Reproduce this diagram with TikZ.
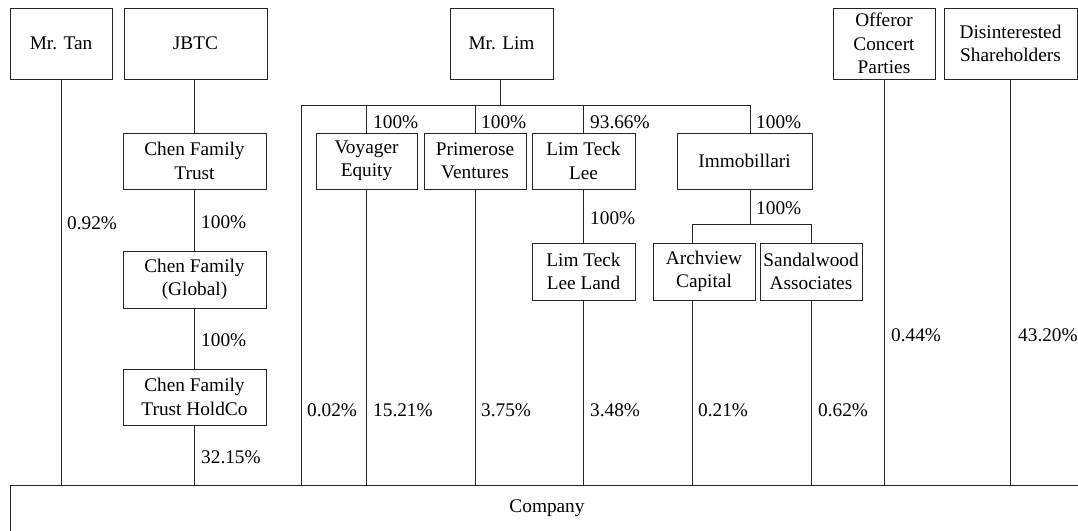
\documentclass[tikz,border=0pt]{standalone}
\usepackage{fontspec}
\setmainfont{Liberation Serif}
\begin{document}
\begin{tikzpicture}[x=1pt,y=-1pt,
  box/.style={draw=black!85, line width=0.9pt, align=center, inner sep=0pt, font=\fontsize{19.3}{23.3}\selectfont},
  lbl/.style={anchor=west, inner sep=0pt, font=\fontsize{19.3}{23}\selectfont},
  conn/.style={draw=black!85, line width=0.9pt}]
\useasboundingbox (0,0) rectangle (1078,530);
\clip (0,0) rectangle (1078,530);
\newcommand\bx[6]{\node[box, minimum width={(#4-#2)*1pt}, minimum height={(#5-#3)*1pt}] (#1) at ({(#2+#4)/2},{(#3+#5)/2}) {#6};}
% top row
\bx{tan}{10}{8}{112}{79}{Mr. Tan}
\bx{jbtc}{124}{8}{267}{79}{JBTC}
\bx{lim}{450}{8}{553}{79}{Mr. Lim}
\bx{offeror}{833}{8}{935}{79}{Offeror\\Concert\\Parties}
\bx{disint}{944}{8}{1077}{79}{Disinterested\\Shareholders}
% Chen chain
\bx{trust}{123}{133}{266}{189}{Chen Family\\Trust}
\bx{global}{123}{251}{266}{308}{Chen Family\\(Global)}
\bx{holdco}{123}{369}{266}{425}{Chen Family\\Trust HoldCo}
% Lim group
\bx{voyager}{316}{133}{417}{189}{Voyager\\Equity}
\bx{primerose}{424}{133}{526}{189}{Primerose\\Ventures}
\bx{ltl}{532}{133}{635}{189}{Lim Teck\\Lee}
\bx{immob}{677}{133}{812}{189}{Immobillari}
\bx{ltll}{532}{243}{635}{300}{Lim Teck\\Lee Land}
\bx{archview}{653}{243}{755}{300}{Archview\\Capital}
\bx{sandal}{760}{243}{862}{300}{Sandalwood\\Associates}
% company
\bx{company}{10}{485}{1084}{531}{Company}

% coordinates
\coordinate (limbar) at (500,105);
\coordinate (barL) at (301,105);
\coordinate (barR) at (750,105);
\coordinate (immbar) at (750,224);
\coordinate (arcTop) at (692,243);
\coordinate (arcBot) at (692,300);

% connectors
\draw[conn] (tan.south) -- (tan.south |- company.north);
\draw[conn] (jbtc.south -| trust.north) -- (trust.north);
\draw[conn] (trust.south) -- (global.north);
\draw[conn] (global.south) -- (holdco.north);
\draw[conn] (holdco.south) -- (holdco.south |- company.north);
\draw[conn] (limbar |- lim.south) -- (limbar);
\draw[conn] (barL |- company.north) -- (barL) -- (barR) -- (barR |- immob.north);
\draw[conn] (voyager.north |- barL) -- (voyager.north);
\draw[conn] (primerose.north |- barL) -- (primerose.north);
\draw[conn] (ltl.north |- barL) -- (ltl.north);
\draw[conn] (voyager.south) -- (voyager.south |- company.north);
\draw[conn] (primerose.south) -- (primerose.south |- company.north);
\draw[conn] (ltl.south) -- (ltll.north);
\draw[conn] (ltll.south) -- (ltll.south |- company.north);
\draw[conn] (immbar |- immob.south) -- (immbar);
\draw[conn] (arcTop) -- (arcTop |- immbar) -- (immbar -| sandal.north) -- (sandal.north);
\draw[conn] (arcBot) -- (arcBot |- company.north);
\draw[conn] (sandal.south) -- (sandal.south |- company.north);
\draw[conn] (offeror.south) -- (offeror.south |- company.north);
\draw[conn] (disint.south) -- (disint.south |- company.north);

% labels
\node[lbl] (l1) at (67,223) {0.92\%};
\node[lbl] (l2) at (201,222) {100\%};
\node[lbl] (l3) at (201,340) {100\%};
\node[lbl] (l4) at (201,457) {32.15\%};
\node[lbl] (l5) at (373,122) {100\%};
\node[lbl] (l6) at (481,122) {100\%};
\node[lbl] (l7) at (590,122) {93.66\%};
\node[lbl] (l8) at (756,122) {100\%};
\node[lbl] (l9) at (590,218) {100\%};
\node[lbl] (l10) at (756,208) {100\%};
\node[lbl] (l11) at (307,410) {0.02\%};
\node[lbl] (l12) at (373,410) {15.21\%};
\node[lbl] (l13) at (481,410) {3.75\%};
\node[lbl] (l14) at (590,410) {3.48\%};
\node[lbl] (l15) at (698,410) {0.21\%};
\node[lbl] (l16) at (818,410) {0.62\%};
\node[lbl] (l17) at (891,335) {0.44\%};
\node[lbl] (l18) at (1018,335) {43.20\%};
\end{tikzpicture}
\end{document}
